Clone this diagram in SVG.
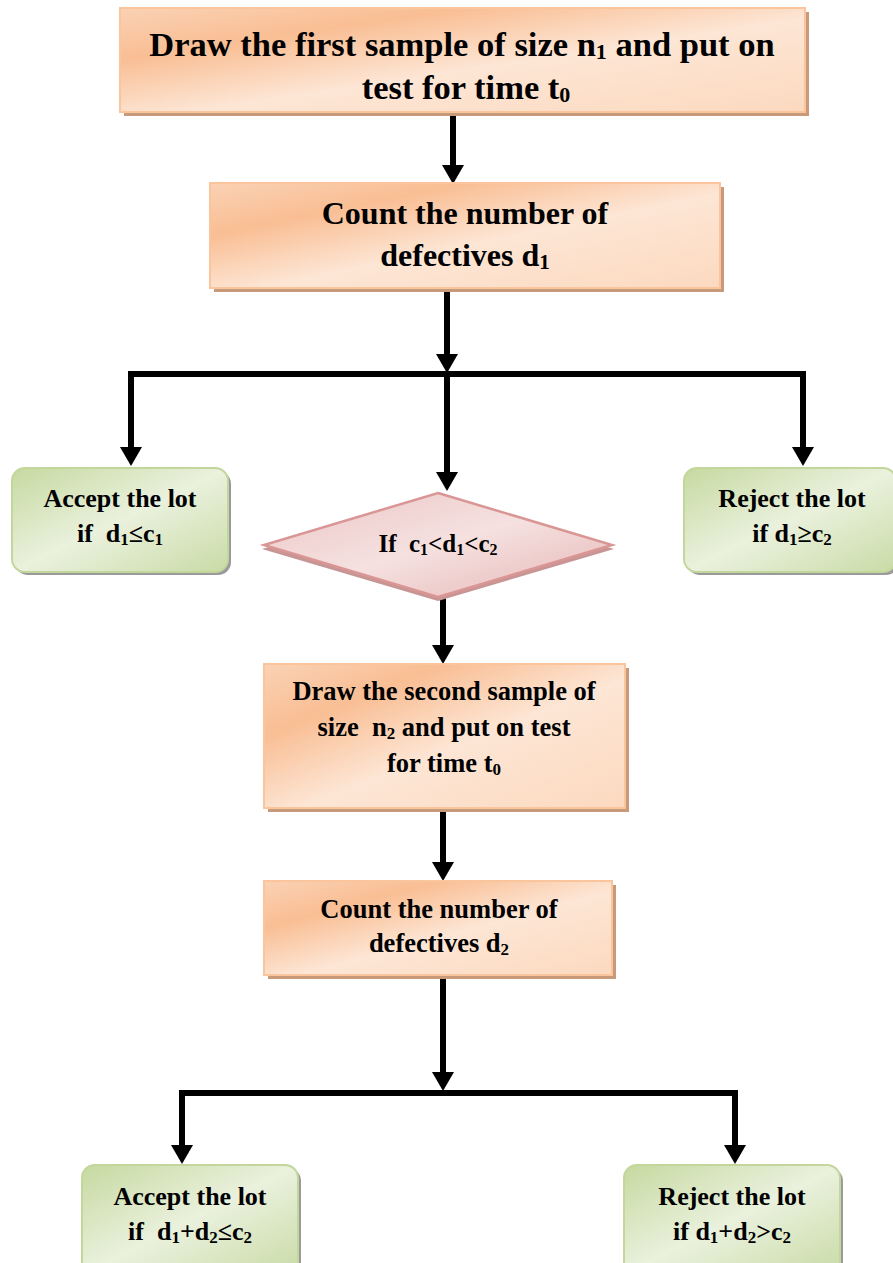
<svg xmlns="http://www.w3.org/2000/svg" width="893" height="1263" viewBox="0 0 893 1263">
<defs>
<linearGradient id="gOr" x1="0" y1="0" x2="1" y2="1">
<stop offset="0" stop-color="#FAD2B4"/>
<stop offset="0.25" stop-color="#F9BE94"/>
<stop offset="0.55" stop-color="#FDE6D5"/>
<stop offset="1" stop-color="#FCD9BF"/>
</linearGradient>
<linearGradient id="gGr" x1="0" y1="0" x2="1" y2="1">
<stop offset="0" stop-color="#C6D9A0"/>
<stop offset="0.5" stop-color="#EAF1DD"/>
<stop offset="1" stop-color="#C9DBA6"/>
</linearGradient>
<linearGradient id="gPk" x1="0" y1="0" x2="1" y2="1">
<stop offset="0" stop-color="#EBC6C5"/>
<stop offset="0.5" stop-color="#F5E1E0"/>
<stop offset="1" stop-color="#E5B5B4"/>
</linearGradient>
<marker id="ah" markerUnits="userSpaceOnUse" markerWidth="20" markerHeight="22" refX="0" refY="11" orient="auto" viewBox="0 0 20 22">
<path d="M0,0 L19,11 L0,22 z" fill="#000"/>
</marker>
</defs>
<style>
.t{font-family:"Liberation Serif","Times New Roman",serif;font-weight:bold;fill:#000;text-anchor:middle;white-space:pre}
.or{fill:url(#gOr);stroke:#FAC49C;stroke-width:2}
.orS{fill:#C99A7A}
.gr{fill:url(#gGr);stroke:#C3D69B;stroke-width:2}
.grS{fill:#9A9A9A}
.c{stroke:#000;stroke-width:6;fill:none}
.a{stroke:#000;stroke-width:6;fill:none;marker-end:url(#ah)}
</style>
<rect width="893" height="1263" fill="#fff"/>

<g id="connectors">
<path class="a" d="M453,112 V165"/>
<path class="a" d="M447,290 V354"/>
<path class="c" d="M128,374 H806"/>
<path class="a" d="M131,371 V447"/>
<path class="a" d="M447,374 V472"/>
<path class="a" d="M803,371 V447"/>
<path class="a" d="M443,597 V645"/>
<path class="a" d="M443,808 V862"/>
<path class="a" d="M443,975 V1072"/>
<path class="c" d="M179,1093 H738"/>
<path class="a" d="M182,1090 V1145"/>
<path class="a" d="M735,1090 V1145"/>
</g>

<g id="n1">
<rect class="orS" x="124" y="12" width="685" height="104"/>
<rect class="or" x="120" y="8" width="685" height="104"/>
<text class="t" x="462" y="56" font-size="34.5">Draw the first sample of size n<tspan font-size="22" dy="3">1</tspan><tspan dy="-3"> and put on</tspan></text>
<text class="t" x="466" y="99" font-size="34.5">test for time t<tspan font-size="22" dy="3">0</tspan></text>
</g>

<g id="n2">
<rect class="orS" x="214" y="187" width="510" height="105"/>
<rect class="or" x="210" y="183" width="510" height="105"/>
<text class="t" x="465" y="224" font-size="32">Count the number of</text>
<text class="t" x="465" y="266" font-size="32">defectives d<tspan font-size="21" dy="3">1</tspan></text>
</g>

<g id="n3">
<rect class="grS" x="15" y="471" width="216" height="104" rx="13"/>
<rect class="gr" x="12" y="468" width="216" height="104" rx="13"/>
<text class="t" x="120" y="507" font-size="26">Accept the lot</text>
<text class="t" x="120" y="542" font-size="26" xml:space="preserve">if  d<tspan font-size="17" dy="3">1</tspan><tspan dy="-3">≤c</tspan><tspan font-size="17" dy="3">1</tspan></text>
</g>

<g id="n4">
<path d="M438,497 L614,549 L438,601 L262,549 z" fill="#C89595"/>
<path d="M438,493 L612,545 L438,597 L264,545 z" fill="url(#gPk)" stroke="#D99694" stroke-width="2.5"/>
<text class="t" x="438" y="552" font-size="25" xml:space="preserve">If  c<tspan font-size="16" dy="3">1</tspan><tspan dy="-3">&lt;d</tspan><tspan font-size="16" dy="3">1</tspan><tspan dy="-3">&lt;c</tspan><tspan font-size="16" dy="3">2</tspan></text>
</g>

<g id="n5">
<rect class="grS" x="687" y="471" width="212" height="104" rx="13"/>
<rect class="gr" x="684" y="468" width="212" height="104" rx="13"/>
<text class="t" x="792" y="507" font-size="26">Reject the lot</text>
<text class="t" x="792" y="542" font-size="26">if d<tspan font-size="17" dy="3">1</tspan><tspan dy="-3">≥c</tspan><tspan font-size="17" dy="3">2</tspan></text>
</g>

<g id="n6">
<rect class="orS" x="268" y="668" width="361" height="144"/>
<rect class="or" x="264" y="664" width="361" height="144"/>
<text class="t" x="444" y="700" font-size="26.5">Draw the second sample of</text>
<text class="t" x="444" y="736" font-size="26.5" xml:space="preserve">size  n<tspan font-size="17" dy="3">2</tspan><tspan dy="-3"> and put on test</tspan></text>
<text class="t" x="444" y="772" font-size="26.5">for time t<tspan font-size="17" dy="3">0</tspan></text>
</g>

<g id="n7">
<rect class="orS" x="268" y="885" width="348" height="94"/>
<rect class="or" x="264" y="881" width="348" height="94"/>
<text class="t" x="439" y="918" font-size="26.5">Count the number of</text>
<text class="t" x="439" y="952" font-size="26.5">defectives d<tspan font-size="17" dy="3">2</tspan></text>
</g>

<g id="n8">
<rect class="grS" x="85" y="1168" width="216" height="110" rx="13"/>
<rect class="gr" x="82" y="1165" width="216" height="110" rx="13"/>
<text class="t" x="190" y="1205" font-size="26">Accept the lot</text>
<text class="t" x="190" y="1240" font-size="26" xml:space="preserve">if  d<tspan font-size="17" dy="3">1</tspan><tspan dy="-3">+d</tspan><tspan font-size="17" dy="3">2</tspan><tspan dy="-3">≤c</tspan><tspan font-size="17" dy="3">2</tspan></text>
</g>

<g id="n9">
<rect class="grS" x="627" y="1168" width="216" height="110" rx="13"/>
<rect class="gr" x="624" y="1165" width="216" height="110" rx="13"/>
<text class="t" x="732" y="1205" font-size="26">Reject the lot</text>
<text class="t" x="732" y="1240" font-size="26">if d<tspan font-size="17" dy="3">1</tspan><tspan dy="-3">+d</tspan><tspan font-size="17" dy="3">2</tspan><tspan dy="-3">&gt;c</tspan><tspan font-size="17" dy="3">2</tspan></text>
</g>
</svg>
